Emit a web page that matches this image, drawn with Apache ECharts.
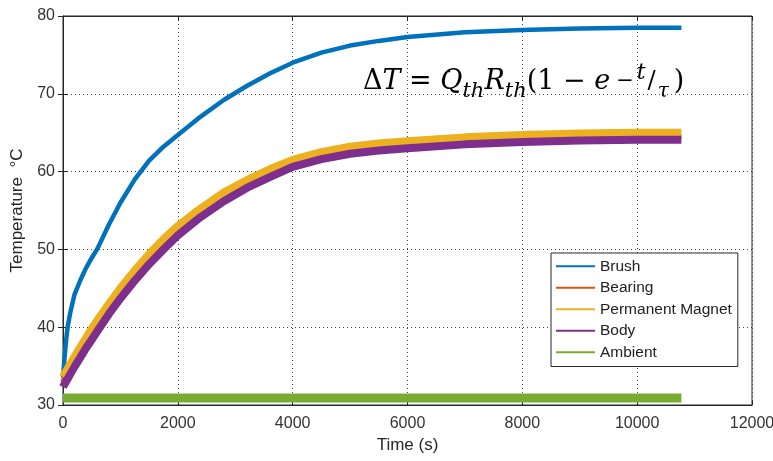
<!DOCTYPE html>
<html>
<head>
<meta charset="utf-8">
<script src="https://cdn.jsdelivr.net/npm/echarts@6/dist/echarts.min.js"></script>
<style>
  html, body { margin: 0; padding: 0; background: #fff; }
  #main { width: 773px; height: 461px; }
</style>
</head>
<body>
<div id="main"></div>
<script>
// sample times (s)
var timeS = [0, 20, 40, 60, 80, 130, 200, 300, 400, 500, 600, 800, 1000, 1250, 1500, 1750, 2000,
  2350, 2800, 3200, 3600, 4000, 4500, 5000, 5500, 6000, 7000, 8000, 9000, 10000, 10770];

// temperatures (degC)
var brushC = [33.5, 35.5, 37.2, 38.7, 40, 42, 44.2, 46, 47.6, 48.9, 50.1, 53.2, 56.0, 59.0, 61.4, 63.2, 64.7,
  66.8, 69.2, 71.0, 72.6, 74.0, 75.3, 76.2, 76.8, 77.3, 77.9, 78.2, 78.4, 78.5, 78.5];
var bearingC = [32.9, 33.2, 33.4, 33.7, 33.9, 34.6, 35.5, 36.7, 37.9, 39.0, 40.1, 42.3, 44.3, 46.6, 48.7, 50.6, 52.4,
  54.4, 56.7, 58.4, 59.8, 61.0, 62.0, 62.7, 63.1, 63.4, 63.9, 64.2, 64.4, 64.5, 64.5];
var magnetC = [33.6, 33.9, 34.1, 34.4, 34.6, 35.3, 36.2, 37.4, 38.6, 39.8, 40.9, 43.0, 45.0, 47.3, 49.4, 51.3, 53.0,
  55.0, 57.3, 58.9, 60.3, 61.5, 62.5, 63.2, 63.6, 63.9, 64.4, 64.7, 64.9, 65.0, 65.0];
var bodyC = [32.3, 32.6, 32.8, 33.1, 33.3, 34.0, 34.9, 36.1, 37.3, 38.4, 39.5, 41.7, 43.7, 46.0, 48.1, 50.0, 51.8,
  53.9, 56.2, 57.9, 59.3, 60.6, 61.6, 62.3, 62.7, 63.0, 63.5, 63.8, 64.0, 64.1, 64.1];
var ambientC = [30.9, 30.9, 30.9, 30.9, 30.9, 30.9, 30.9, 30.9, 30.9, 30.9, 30.9, 30.9, 30.9, 30.9, 30.9, 30.9, 30.9,
  30.9, 30.9, 30.9, 30.9, 30.9, 30.9, 30.9, 30.9, 30.9, 30.9, 30.9, 30.9, 30.9, 30.9];

var seriesNames = ['Brush', 'Bearing', 'Permanent Magnet', 'Body', 'Ambient'];

function pairs(vals) {
  return timeS.map(function (t, i) { return [t, vals[i]]; });
}

var chart = echarts.init(document.getElementById('main'), null, { renderer: 'canvas' });

var axisColor = '#262626';
var font = 'Liberation Sans, Arial, sans-serif';

function mkSeries(name, vals, color, width) {
  return {
    name: name,
    type: 'line',
    data: pairs(vals),
    symbol: 'none',
    smooth: false,
    color: color,
    lineStyle: { width: width, color: color, join: 'round' },
    animation: false
  };
}

var option = {
  backgroundColor: '#fff',
  animation: false,
  grid: {
    left: 63, right: 21, top: 16, bottom: 56,
    outerBoundsMode: 'none',
    containLabel: false,
    show: true, borderColor: axisColor, borderWidth: 1
  },
  legend: {
    orient: 'vertical',
    left: 551, top: 253,
    data: seriesNames,
    icon: 'rect',
    itemWidth: 39, itemHeight: 2,
    itemGap: 5,
    padding: [5, 6, 6, 5],
    backgroundColor: '#fff',
    borderColor: axisColor, borderWidth: 1,
    textStyle: { fontFamily: font, fontSize: 15.5, color: '#222', lineHeight: 16.5 }
  },
  xAxis: [{
    type: 'value', min: 0, max: 12000, interval: 2000,
    name: 'Time (s)', nameLocation: 'middle', nameGap: 31,
    nameTextStyle: { fontFamily: font, fontSize: 17, color: '#262626' },
    axisLine: { show: true, lineStyle: { color: axisColor } },
    axisTick: { show: true, inside: true, length: 5, lineStyle: { color: axisColor } },
    axisLabel: { margin: 11, fontFamily: font, fontSize: 16, color: '#333',
      formatter: function (v) { return String(v); } },
    splitLine: { show: true, lineStyle: { color: '#444', type: [1, 3], width: 1 } }
  }, {
    type: 'value', min: 0, max: 12000, interval: 2000, position: 'top',
    axisLine: { show: true, lineStyle: { color: axisColor } },
    axisTick: { show: true, inside: true, length: 5, lineStyle: { color: axisColor } },
    axisLabel: { show: false },
    splitLine: { show: false }
  }],
  yAxis: [{
    type: 'value', min: 30, max: 80, interval: 10,
    name: 'Temperature  \u00B0C', nameLocation: 'middle', nameGap: 36, nameRotate: 90,
    nameTextStyle: { fontFamily: font, fontSize: 17, color: '#262626' },
    axisLine: { show: true, lineStyle: { color: axisColor } },
    axisTick: { show: true, inside: true, length: 5, lineStyle: { color: axisColor } },
    axisLabel: { margin: 8, fontFamily: font, fontSize: 16, color: '#333' },
    splitLine: { show: true, lineStyle: { color: '#444', type: [1, 3], width: 1 } }
  }, {
    type: 'value', min: 30, max: 80, interval: 10, position: 'right',
    axisLine: { show: true, lineStyle: { color: axisColor } },
    axisTick: { show: true, inside: true, length: 5, lineStyle: { color: axisColor } },
    axisLabel: { show: false },
    splitLine: { show: false }
  }],
  series: [
    mkSeries('Brush', brushC, '#0072BD', 4.5),
    mkSeries('Bearing', bearingC, '#D95319', 6),
    mkSeries('Permanent Magnet', magnetC, '#EDB120', 8),
    mkSeries('Body', bodyC, '#7E2F8E', 8),
    mkSeries('Ambient', ambientC, '#77AC30', 9)
  ],
  graphic: [{
    type: 'text',
    left: 363, top: 62,
    z: 100,
    style: {
      text: '{n|\u0394}{i|T}{n| = }{i|Q}{s|th}{i|R}{s|th}{n|(1 \u2212 }{i|e}{em|\u2212}{et|t}{esl|/}{etau|\u03C4}{cp|)}',
      rich: {
        n: { fontFamily: 'DejaVu Serif', fontSize: 27, color: '#111', lineHeight: 40 },
        i: { fontFamily: 'DejaVu Serif', fontStyle: 'italic', fontSize: 27, color: '#111', lineHeight: 40 },
        s: { fontFamily: 'DejaVu Serif', fontStyle: 'italic', fontSize: 21, color: '#111', lineHeight: 31, verticalAlign: 'bottom' },
        em: { fontFamily: 'DejaVu Serif', fontSize: 21, color: '#111', lineHeight: 40, padding: [0, 2, 0, 6] },
        et: { fontFamily: 'DejaVu Serif', fontStyle: 'italic', fontSize: 22, color: '#111', lineHeight: 32, verticalAlign: 'top', padding: [0, 1, 0, 1] },
        esl: { fontFamily: 'DejaVu Serif', fontSize: 24, color: '#111', lineHeight: 40, padding: [0, 2, 0, 1] },
        etau: { fontFamily: 'DejaVu Serif', fontStyle: 'italic', fontSize: 20, color: '#111', lineHeight: 34, verticalAlign: 'bottom', padding: [0, 3, 0, 0] },
        cp: { fontFamily: 'DejaVu Serif', fontSize: 27, color: '#111', lineHeight: 40, padding: [0, 0, 0, 2] }
      }
    }
  }, {
    type: 'circle',
    z: 100,
    shape: { cx: 449, cy: 71, r: 1.4 },
    style: { fill: '#111' }
  }]
};

chart.setOption(option);
</script>
</body>
</html>
